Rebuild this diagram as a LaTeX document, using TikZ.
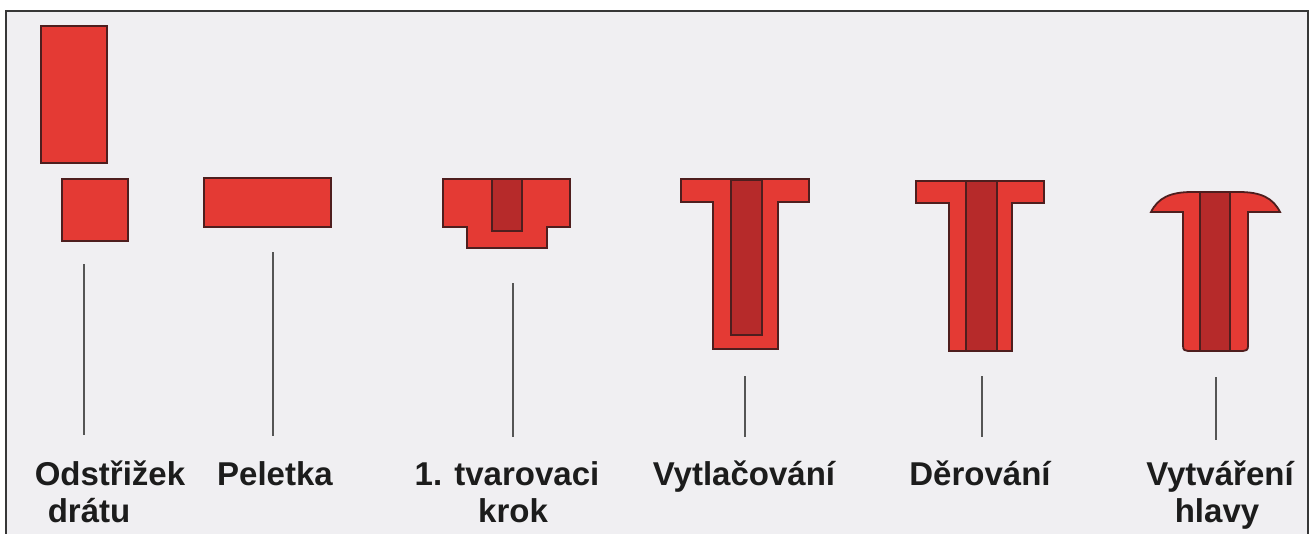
\documentclass[tikz,border=0pt]{standalone}
\usepackage{fontspec}
\setmainfont{Liberation Sans}
\definecolor{partred}{RGB}{228,58,52}
\definecolor{corered}{RGB}{182,42,42}
\definecolor{partedge}{RGB}{78,30,30}
\definecolor{paper}{RGB}{240,239,242}
\definecolor{framegray}{RGB}{55,55,55}
\definecolor{leadergray}{RGB}{85,85,85}
\definecolor{captiontext}{RGB}{28,28,28}
\begin{document}
\begin{tikzpicture}[x=0.5pt,y=-0.5pt,
  part/.style={fill=partred, draw=partedge, line width=0.9pt, line join=miter},
  core/.style={fill=corered, draw=partedge, line width=0.7pt},
  leader/.style={draw=leadergray, line width=0.8pt},
  caption/.style={font=\fontsize{16.5}{20}\selectfont\bfseries, text=captiontext,
                  inner sep=0pt, anchor=base}]
\useasboundingbox (0,0) rectangle (1309,534);
\fill[white] (0,0) rectangle (1309,534);
\fill[paper] (6,11) rectangle (1309,534);
\draw[framegray, line width=0.8pt] (6,545) -- (6,11) -- (1308,11) -- (1308,545);

% wire cut-off: long bar and short slug
\draw[part] (41,26) rectangle (107,163);
\draw[part] (62,179) rectangle (128,241);

% pellet
\draw[part] (204,178) rectangle (331,227);

% first forming step
\draw[part] (443,179) -- (570,179) -- (570,227) -- (547,227) -- (547,248)
  -- (467,248) -- (467,227) -- (443,227) -- cycle;
\draw[core] (492,179) rectangle (522,231);

% extrusion
\draw[part] (681,179) -- (809,179) -- (809,202) -- (778,202) -- (778,349)
  -- (713,349) -- (713,202) -- (681,202) -- cycle;
\draw[core] (731,180) rectangle (762,335);

% piercing
\draw[part] (916,181) -- (1044,181) -- (1044,203) -- (1012,203) -- (1012,351)
  -- (949,351) -- (949,203) -- (916,203) -- cycle;
\draw[core] (966,181) rectangle (997,351);

% heading: domed head on a hollow shank
\draw[part] (1151,212) .. controls (1158,198) and (1170,192) .. (1192,192)
  -- (1239,192) .. controls (1261,192) and (1273,198) .. (1280,212)
  -- (1248,212) -- (1248,346) .. controls (1248,350) and (1246,351) .. (1243,351)
  -- (1188,351) .. controls (1185,351) and (1183,350) .. (1183,346)
  -- (1183,212) -- cycle;
\draw[core] (1200,192) rectangle (1230,351);

% leader lines
\coordinate (l1t) at (84,264);   \coordinate (l1b) at (84,435);
\coordinate (l2t) at (273,252);  \coordinate (l2b) at (273,436);
\coordinate (l3t) at (513,283);  \coordinate (l3b) at (513,437);
\coordinate (l4t) at (745,376);  \coordinate (l4b) at (745,437);
\coordinate (l5t) at (982,376);  \coordinate (l5b) at (982,437);
\coordinate (l6t) at (1216,377); \coordinate (l6b) at (1216,440);
\foreach \k in {1,...,6} \draw[leader] (l\k t) -- (l\k b);

% captions
\node[caption] (c1a) at (110,485) {Odstřižek};
\node[caption] (c1b) at (89,522) {drátu};
\node[caption] (c2)  at (275,485) {Peletka};
\node[caption] (c3a) at (507,485) {1. tvarovaci};
\node[caption] (c3b) at (513,522) {krok};
\node[caption] (c4)  at (744,485) {Vytlačování};
\node[caption] (c5)  at (980,485) {Děrování};
\node[caption] (c6a) at (1220,485) {Vytváření};
\node[caption] (c6b) at (1217,522) {hlavy};
\end{tikzpicture}
\end{document}
